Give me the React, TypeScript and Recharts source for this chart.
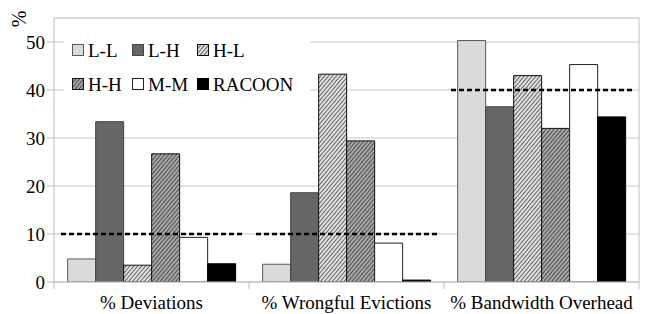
import React from 'react';
import {
  BarChart,
  Bar,
  XAxis,
  YAxis,
  CartesianGrid,
  Legend,
  ReferenceLine,
} from 'recharts';

// chart values
const categories = ['% Deviations', '% Wrongful Evictions', '% Bandwidth Overhead'];
const llValues = [4.8, 3.7, 50.3];
const lhValues = [33.4, 18.6, 36.5];
const hlValues = [3.5, 43.3, 43.0];
const hhValues = [26.7, 29.4, 32.0];
const mmValues = [9.3, 8.1, 45.3];
const racoonValues = [3.8, 0.4, 34.4];
const thresholds = [10, 10, 40];
const yTicks = [0, 10, 20, 30, 40, 50];

const series = [
  { key: 'L-L', fill: '#dadada', stroke: '#5a5a5a' },
  { key: 'L-H', fill: '#666666', stroke: '#444444' },
  { key: 'H-L', fill: 'url(#hatchLight)', stroke: '#111111' },
  { key: 'H-H', fill: 'url(#hatchDark)', stroke: '#111111' },
  { key: 'M-M', fill: '#ffffff', stroke: '#222222' },
  { key: 'RACOON', fill: '#000000', stroke: '#000000' },
];

const data = categories.map((name, i) => ({
  name,
  'L-L': llValues[i],
  'L-H': lhValues[i],
  'H-L': hlValues[i],
  'H-H': hhValues[i],
  'M-M': mmValues[i],
  RACOON: racoonValues[i],
  threshold: thresholds[i],
}));

const font = '"Liberation Serif", "Times New Roman", serif';

// dashed threshold drawn across the whole group
const DashShape = (props: any) => {
  const { x, y, width } = props;
  return (
    <line x1={x} x2={x + width} y1={y} y2={y} stroke="#000" strokeWidth={2.5} strokeDasharray="5 3" />
  );
};

const renderLegend = () => {
  const colWidths = [60, 65, 110];
  const rows = [series.slice(0, 3), series.slice(3)];
  return (
    <div style={{ paddingLeft: 8, paddingTop: 3, fontFamily: font, fontSize: 19, color: '#000' }}>
      {rows.map((row, r) => (
        <div key={r} style={{ display: 'flex', height: 34, alignItems: 'center' }}>
          {row.map((s, c) => (
            <div key={s.key} style={{ width: colWidths[c], display: 'flex', alignItems: 'center' }}>
              <svg width={12} height={12} style={{ marginRight: 4 }}>
                <rect x={0.5} y={0.5} width={11} height={11} fill={s.fill} stroke={s.stroke} />
              </svg>
              <span style={{ lineHeight: '19px' }}>{s.key}</span>
            </div>
          ))}
        </div>
      ))}
    </div>
  );
};

const last = categories[categories.length - 1];

export default function App() {
  return (
    <div style={{ position: 'absolute', left: 0, top: 0, width: 646, height: 314, background: '#fff' }}>
      <div
        style={{
          position: 'absolute',
          left: 11,
          top: 9,
          fontSize: 20,
          fontFamily: font,
          transform: 'rotate(-90deg)',
          lineHeight: '20px',
        }}
      >
        %
      </div>
      <BarChart
        width={646}
        height={314}
        data={data}
        margin={{ top: 18, right: 7, bottom: 0, left: 0 }}
        barCategoryGap="7%"
        barGap={0}
      >
        <defs>
          <pattern id="hatchLight" patternUnits="userSpaceOnUse" width={3} height={3} patternTransform="rotate(40)">
            <rect width={3} height={3} fill="#e0e0e0" />
            <line x1={0} y1={0} x2={0} y2={3} stroke="#000" strokeWidth={1.1} />
          </pattern>
          <pattern id="hatchDark" patternUnits="userSpaceOnUse" width={3} height={3} patternTransform="rotate(40)">
            <rect width={3} height={3} fill="#a8a8a8" />
            <line x1={0} y1={0} x2={0} y2={3} stroke="#000" strokeWidth={1.1} />
          </pattern>
        </defs>
        <CartesianGrid vertical={false} stroke="#c6c6c6" />
        <XAxis
          dataKey="name"
          height={32}
          tickLine={false}
          tickSize={12}
          axisLine={{ stroke: '#bdbdbd' }}
          tick={{ fill: '#000', fontSize: 19, fontFamily: font }}
          interval={0}
        />
        <XAxis xAxisId="thr" dataKey="name" hide />
        <YAxis
          width={54}
          domain={[0, 55]}
          ticks={yTicks}
          allowDataOverflow
          tickSize={7}
          axisLine={{ stroke: '#bdbdbd' }}
          tickLine={{ stroke: '#bdbdbd' }}
          tick={{ fill: '#000', fontSize: 19, fontFamily: font }}
        />
        <ReferenceLine y={55} stroke="#d6d6d6" strokeWidth={1.5} />
        <ReferenceLine x={last} position="end" stroke="#d6d6d6" strokeWidth={1.5} />
        {/* boundary ticks below the category axis */}
        {categories.map((c) => (
          <ReferenceLine
            key={c}
            position="start"
            segment={[
              { x: c, y: 0 },
              { x: c, y: -1.45 },
            ]}
            ifOverflow="visible"
            stroke="#bdbdbd"
          />
        ))}
        <ReferenceLine
          position="end"
          segment={[
            { x: last, y: 0 },
            { x: last, y: -1.45 },
          ]}
          ifOverflow="visible"
          stroke="#bdbdbd"
        />
        {series.map((s) => (
          <Bar
            key={s.key}
            dataKey={s.key}
            fill={s.fill}
            stroke={s.stroke}
            strokeWidth={1}
            isAnimationActive={false}
          />
        ))}
        <Bar
          xAxisId="thr"
          dataKey="threshold"
          barSize={182}
          shape={DashShape}
          legendType="none"
          isAnimationActive={false}
        />
        <Legend
          content={renderLegend}
          layout="horizontal"
          align="center"
          verticalAlign="middle"
          wrapperStyle={{ left: 64, top: 30, width: 246, height: 70, background: '#fff' }}
        />
      </BarChart>
    </div>
  );
}
